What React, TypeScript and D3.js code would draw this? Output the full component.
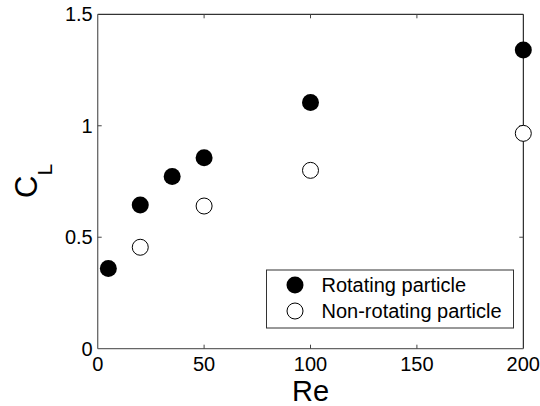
import React from "react";
import * as d3 from "d3";

const reRotating = [5, 20, 35, 50, 100, 200];
const clRotating = [0.36, 0.645, 0.772, 0.857, 1.104, 1.34];
const reNonRotating = [20, 50, 100, 200];
const clNonRotating = [0.455, 0.64, 0.8, 0.966];
const xTicks = [0, 50, 100, 150, 200];
const yTicks = [0, 0.5, 1, 1.5];
const yTickLabels = ["0", "0.5", "1", "1.5"];
const legendLabels = ["Rotating particle", "Non-rotating particle"];

const W = 540;
const H = 406;
const left = 97.7;
const right = 523.3;
const top = 14.3;
const bottom = 348.7;
const FONT = "'Liberation Sans', Arial, Helvetica, sans-serif";

export default function App() {
  const x = d3.scaleLinear().domain([0, 200]).range([left, right]);
  const y = d3.scaleLinear().domain([0, 1.5]).range([bottom, top]);
  const r = 8.5;
  const tl = 4;

  return (
    <svg
      width={W}
      height={H}
      style={{ position: "fixed", left: 0, top: 0, background: "#fff" }}
      fontFamily={FONT}
    >
      <rect x={0} y={0} width={W} height={H} fill="#fff" />
      {/* axes frame */}
      <line x1={left} x2={right} y1={top} y2={top} stroke="#000" strokeWidth={1} />
      <line x1={right} x2={right} y1={top} y2={bottom} stroke="#000" strokeWidth={1} />
      <line x1={left} x2={left} y1={top} y2={bottom} stroke="#666" strokeWidth={1.3} />
      <line x1={left} x2={right} y1={bottom} y2={bottom} stroke="#666" strokeWidth={1.3} />

      {/* x ticks */}
      {xTicks.map((t) => (
        <g key={"xt" + t}>
          {t > 0 && t < 200 && (
            <>
              <line x1={x(t)} x2={x(t)} y1={bottom} y2={bottom - tl} stroke="#444" strokeWidth={1} />
              <line x1={x(t)} x2={x(t)} y1={top} y2={top + tl} stroke="#444" strokeWidth={1} />
            </>
          )}
          <text x={x(t)} y={371} textAnchor="middle" fontSize={20} fill="#000">
            {t}
          </text>
        </g>
      ))}

      {/* y ticks */}
      {yTicks.map((t, i) => (
        <g key={"yt" + t}>
          {t > 0 && t < 1.5 && (
            <>
              <line x1={left} x2={left + tl} y1={y(t)} y2={y(t)} stroke="#444" strokeWidth={1} />
              <line x1={right} x2={right - tl} y1={y(t)} y2={y(t)} stroke="#444" strokeWidth={1} />
            </>
          )}
          <text x={left - 5} y={y(t) + 7} textAnchor="end" fontSize={20} fill="#000">
            {yTickLabels[i]}
          </text>
        </g>
      ))}

      {/* axis labels */}
      <text x={310.5} y={401} textAnchor="middle" fontSize={29} fill="#000">
        Re
      </text>
      <text transform="translate(37,198) rotate(-90)" fontSize={31} fill="#000">
        <tspan>C</tspan>
        <tspan dy={15} fontSize={21}>L</tspan>
      </text>

      {/* data */}
      {reRotating.map((v, i) => (
        <circle key={"r" + i} cx={x(v)} cy={y(clRotating[i])} r={r} fill="#000" />
      ))}
      {reNonRotating.map((v, i) => (
        <circle
          key={"n" + i}
          cx={x(v)}
          cy={y(clNonRotating[i])}
          r={r - 0.5}
          fill="#fff"
          stroke="#000"
          strokeWidth={1}
        />
      ))}

      {/* legend */}
      <rect x={266.5} y={270} width={247} height={58} fill="#fff" stroke="#333" strokeWidth={1} />
      <circle cx={295} cy={285} r={r} fill="#000" />
      <circle cx={295} cy={311} r={r - 0.5} fill="#fff" stroke="#000" strokeWidth={1} />
      <text x={321.5} y={292} fontSize={20} fill="#000">
        {legendLabels[0]}
      </text>
      <text x={321.5} y={318} fontSize={20} fill="#000">
        {legendLabels[1]}
      </text>
    </svg>
  );
}
